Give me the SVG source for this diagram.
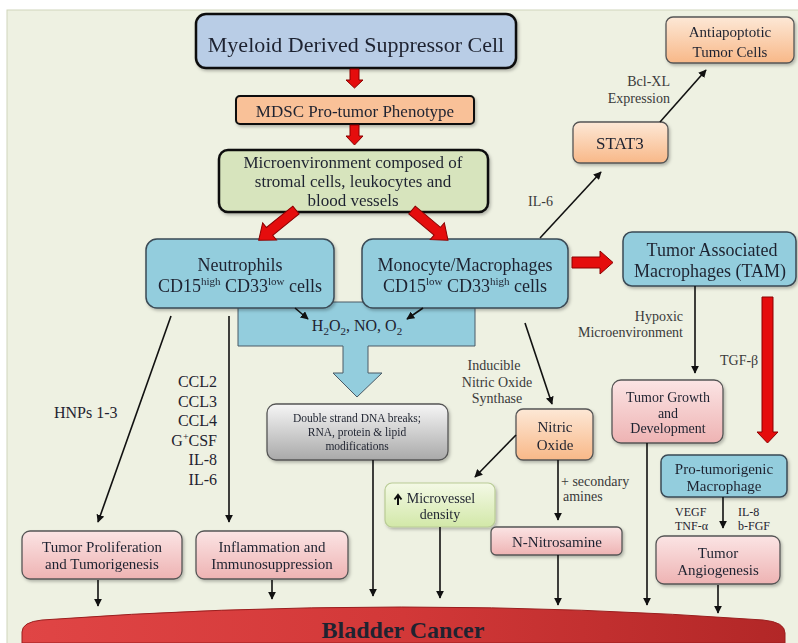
<svg xmlns="http://www.w3.org/2000/svg" width="798" height="643" viewBox="0 0 798 643">
<defs>
<style>
text{font-family:"Liberation Serif","DejaVu Serif",serif;fill:#1f2330;text-anchor:middle}
.lbl{fill:#3a3a3a;font-size:14px}
.l{text-anchor:start}
.r{text-anchor:end}
.con{stroke:#111;stroke-width:1.6;fill:none;marker-end:url(#ah)}
.red{fill:#e50d0d;stroke:#8b0000;stroke-width:1}
.box{stroke:#555;stroke-width:1.3}
.blue{fill:#93cddd;stroke:#3a4a55;stroke-width:1.5}
</style>
<marker id="ah" viewBox="0 0 10 10" refX="9" refY="5" markerWidth="8" markerHeight="8" markerUnits="userSpaceOnUse" orient="auto">
<path d="M0,0 L10,5 L0,10 Z" fill="#111"/>
</marker>
<linearGradient id="gPink" x1="0" y1="0" x2="0" y2="1"><stop offset="0" stop-color="#fbe4e4"/><stop offset="1" stop-color="#eeb3b3"/></linearGradient>
<linearGradient id="gOrange" x1="0" y1="0" x2="0" y2="1"><stop offset="0" stop-color="#fde8d6"/><stop offset="1" stop-color="#f8b888"/></linearGradient>
<linearGradient id="gGray" x1="0" y1="0" x2="0" y2="1"><stop offset="0" stop-color="#f6f6f6"/><stop offset="1" stop-color="#a9a9a9"/></linearGradient>
<linearGradient id="gGreen" x1="0" y1="0" x2="0" y2="1"><stop offset="0" stop-color="#f4f9e6"/><stop offset="1" stop-color="#d2e8a8"/></linearGradient>
<linearGradient id="gBlad" x1="0" y1="0" x2="1" y2="0"><stop offset="0" stop-color="#e04545"/><stop offset="0.5" stop-color="#d23838"/><stop offset="1" stop-color="#b22727"/></linearGradient>
<filter id="sh" x="-10%" y="-10%" width="130%" height="140%"><feDropShadow dx="1.5" dy="2" stdDeviation="1.5" flood-color="#000" flood-opacity="0.25"/></filter>
</defs>

<rect x="0" y="0" width="798" height="643" fill="#ffffff"/>
<rect x="7" y="10" width="795" height="640" fill="#eef1e2" stroke="#cfd5bb" stroke-width="1"/>

<!-- Bladder cancer -->
<g id="bladder">
<path d="M22,643 L22,632 Q22,622 42,620 Q400,594 763,620 Q785,622 785,633 L785,643 Z" fill="url(#gBlad)" stroke="#9a1f1f" stroke-width="1"/>
<text x="403" y="638" font-size="24" font-weight="bold" fill="#1a0808">Bladder Cancer</text>
</g>

<!-- H2O2 callout arrow -->
<g id="ros">
<path d="M238,302 L475,302 L475,346 L368,346 L368,373 L382,373 L357,397 L333,373 L343,373 L343,346 L238,346 Z" fill="#93cddd" stroke="#4a5a66" stroke-width="1"/>
<text x="357" y="331" font-size="16">H<tspan font-size="11" dy="4">2</tspan><tspan dy="-4">O</tspan><tspan font-size="11" dy="4">2</tspan><tspan dy="-4">, NO, O</tspan><tspan font-size="11" dy="4">2</tspan></text>
</g>

<g id="mdsc" filter="url(#sh)">
<rect x="196" y="14" width="320" height="54" rx="10" fill="#b9cde6" stroke="#111" stroke-width="2.5"/>
<text x="356" y="52" font-size="22">Myeloid Derived Suppressor Cell</text>
</g>
<g id="phenotype" filter="url(#sh)">
<rect x="236" y="96" width="238" height="28" rx="4" fill="#f9c198" stroke="#111" stroke-width="2"/>
<text x="355" y="117" font-size="17">MDSC Pro-tumor Phenotype</text>
</g>
<g id="microenv" filter="url(#sh)">
<rect x="219" y="150" width="269" height="62" rx="9" fill="#d7e4bd" stroke="#111" stroke-width="2.5"/>
<text x="353" y="168" font-size="17">Microenvironment composed of</text>
<text x="353" y="187" font-size="17">stromal cells, leukocytes and</text>
<text x="353" y="206" font-size="17">blood vessels</text>
</g>
<g id="neutrophils" filter="url(#sh)">
<rect x="146" y="239" width="188" height="69" rx="11" class="blue"/>
<text x="240" y="271" font-size="18">Neutrophils</text>
<text x="240" y="292" font-size="18">CD15<tspan font-size="11" dy="-7">high</tspan><tspan dy="7"> CD33</tspan><tspan font-size="11" dy="-7">low</tspan><tspan dy="7"> cells</tspan></text>
</g>
<g id="monocyte" filter="url(#sh)">
<rect x="362" y="239" width="206" height="69" rx="11" class="blue"/>
<text x="465" y="271" font-size="18">Monocyte/Macrophages</text>
<text x="465" y="292" font-size="18">CD15<tspan font-size="11" dy="-7">low</tspan><tspan dy="7"> CD33</tspan><tspan font-size="11" dy="-7">high</tspan><tspan dy="7"> cells</tspan></text>
</g>
<g id="tam" filter="url(#sh)">
<rect x="623" y="232" width="173" height="54" rx="9" class="blue"/>
<text x="712" y="256" font-size="18">Tumor Associated</text>
<text x="710" y="277" font-size="18">Macrophages (TAM)</text>
</g>
<g id="stat3" filter="url(#sh)">
<rect x="573" y="122" width="95" height="41" rx="7" fill="url(#gOrange)" class="box"/>
<text x="620" y="149" font-size="17">STAT3</text>
</g>
<g id="antiapoptotic" filter="url(#sh)">
<rect x="666" y="17" width="128" height="46" rx="7" fill="url(#gOrange)" class="box"/>
<text x="730" y="37" font-size="15">Antiapoptotic</text>
<text x="730" y="57" font-size="15">Tumor Cells</text>
</g>
<g id="dna" filter="url(#sh)">
<rect x="267" y="404" width="181" height="56" rx="9" fill="url(#gGray)" class="box"/>
<text x="357" y="422" font-size="11.5">Double strand DNA breaks;</text>
<text x="357" y="436" font-size="11.5">RNA, protein &amp; lipid</text>
<text x="357" y="450" font-size="11.5">modifications</text>
</g>
<g id="nitricoxide" filter="url(#sh)">
<rect x="516" y="409" width="77" height="51" rx="7" fill="url(#gOrange)" class="box"/>
<text x="555" y="432" font-size="15">Nitric</text>
<text x="555" y="450" font-size="15">Oxide</text>
</g>
<g id="microvessel" filter="url(#sh)">
<rect x="385" y="483" width="110" height="44" rx="7" fill="url(#gGreen)" stroke="#b9cc95" stroke-width="1.2"/>
<path d="M398,505 L398,496 M394.5,499.5 L398,495 L401.5,499.5" stroke="#111" stroke-width="2" fill="none"/>
<text x="441" y="503" font-size="14">Microvessel</text>
<text x="440" y="519" font-size="14">density</text>
</g>
<g id="nnitrosamine" filter="url(#sh)">
<rect x="491" y="527" width="131" height="28" rx="5" fill="url(#gPink)" class="box"/>
<text x="557" y="547" font-size="15">N-Nitrosamine</text>
</g>
<g id="tumorgrowth" filter="url(#sh)">
<rect x="612" y="380" width="111" height="63" rx="9" fill="url(#gPink)" class="box"/>
<text x="668" y="402" font-size="14">Tumor Growth</text>
<text x="668" y="418" font-size="14">and</text>
<text x="668" y="433" font-size="14">Development</text>
</g>
<g id="protumorigenic" filter="url(#sh)">
<rect x="661" y="455" width="126" height="42" rx="7" class="blue"/>
<text x="724" y="474" font-size="15">Pro-tumorigenic</text>
<text x="724" y="491" font-size="15">Macrophage</text>
</g>
<g id="angiogenesis" filter="url(#sh)">
<rect x="656" y="536" width="124" height="48" rx="8" fill="url(#gPink)" class="box"/>
<text x="718" y="558" font-size="15">Tumor</text>
<text x="718" y="575" font-size="15">Angiogenesis</text>
</g>
<g id="proliferation" filter="url(#sh)">
<rect x="22" y="531" width="160" height="48" rx="8" fill="url(#gPink)" class="box"/>
<text x="102" y="552" font-size="15">Tumor Proliferation</text>
<text x="102" y="569" font-size="15">and Tumorigenesis</text>
</g>
<g id="inflammation" filter="url(#sh)">
<rect x="196" y="531" width="152" height="48" rx="8" fill="url(#gPink)" class="box"/>
<text x="272" y="552" font-size="15">Inflammation and</text>
<text x="272" y="569" font-size="15">Immunosuppression</text>
</g>

<g id="connectors">
<!-- red block arrows -->
<path class="red" d="M350,69 L359,69 L359,80 L363,80 L354.5,88 L346,80 L350,80 Z"/>
<path class="red" d="M350,125 L359,125 L359,136 L363,136 L354.5,145 L346,136 L350,136 Z"/>
<path class="red" transform="translate(296,210) rotate(141)" d="M0,-5 L34,-5 L34,-11 L48,0 L34,11 L34,5 L0,5 Z"/>
<path class="red" transform="translate(412,210) rotate(40)" d="M0,-5 L33,-5 L33,-11 L47,0 L33,11 L33,5 L0,5 Z"/>
<path class="red" d="M572,257 L600,257 L600,251 L613,262.5 L600,274 L600,268 L572,268 Z"/>
<path class="red" d="M762,297 L773,297 L773,432 L778,432 L767.5,443 L757,432 L762,432 Z"/>

<!-- black connectors -->
<line class="con" x1="295" y1="308" x2="308" y2="319"/>
<line class="con" x1="423" y1="308" x2="407" y2="319"/>
<line class="con" x1="540" y1="238" x2="601" y2="172"/>
<line class="con" x1="660" y1="122" x2="706" y2="70"/>
<line class="con" x1="695" y1="286" x2="695" y2="373"/>
<line class="con" x1="525" y1="323" x2="552" y2="404"/>
<line class="con" x1="171" y1="316" x2="98" y2="522"/>
<line class="con" x1="229" y1="316" x2="229" y2="522"/>
<line class="con" x1="516" y1="435" x2="475" y2="477"/>
<line class="con" x1="558" y1="460" x2="558" y2="520"/>
<line class="con" x1="723" y1="497" x2="723" y2="528"/>
<line class="con" x1="98" y1="580" x2="98" y2="606"/>
<line class="con" x1="272" y1="580" x2="272" y2="599"/>
<line class="con" x1="373" y1="460" x2="373" y2="596"/>
<line class="con" x1="440" y1="527" x2="440" y2="598"/>
<line class="con" x1="558" y1="555" x2="558" y2="605"/>
<line class="con" x1="647" y1="443" x2="647" y2="605"/>
<line class="con" x1="718" y1="585" x2="718" y2="613"/>

<!-- labels -->
<text class="lbl r" x="670" y="86">Bcl-XL</text>
<text class="lbl r" x="670" y="103">Expression</text>
<text class="lbl l" x="528" y="206">IL-6</text>
<text class="lbl r" x="683" y="321">Hypoxic</text>
<text class="lbl r" x="683" y="337">Microenvironment</text>
<text class="lbl l" x="720" y="365">TGF-β</text>
<text class="lbl" x="494" y="370">Inducible</text>
<text class="lbl" x="497" y="387">Nitric Oxide</text>
<text class="lbl" x="497" y="403">Synthase</text>
<text class="l" x="54" y="418" font-size="16">HNPs 1-3</text>
<text class="r" x="217" y="387" font-size="16">CCL2</text>
<text class="r" x="217" y="407" font-size="16">CCL3</text>
<text class="r" x="217" y="426" font-size="16">CCL4</text>
<text class="r" x="217" y="446" font-size="16">G<tspan font-size="10" dy="-6">+</tspan><tspan dy="6">CSF</tspan></text>
<text class="r" x="217" y="465" font-size="16">IL-8</text>
<text class="r" x="217" y="485" font-size="16">IL-6</text>
<text class="lbl l" x="561" y="486">+ secondary</text>
<text class="lbl l" x="563" y="501">amines</text>
<text class="l" x="675" y="516" font-size="12" fill="#3a3a3a">VEGF</text>
<text class="l" x="675" y="530" font-size="12" fill="#3a3a3a">TNF-α</text>
<text class="l" x="738" y="516" font-size="12" fill="#3a3a3a">IL-8</text>
<text class="l" x="738" y="530" font-size="12" fill="#3a3a3a">b-FGF</text>
</g>
</svg>
